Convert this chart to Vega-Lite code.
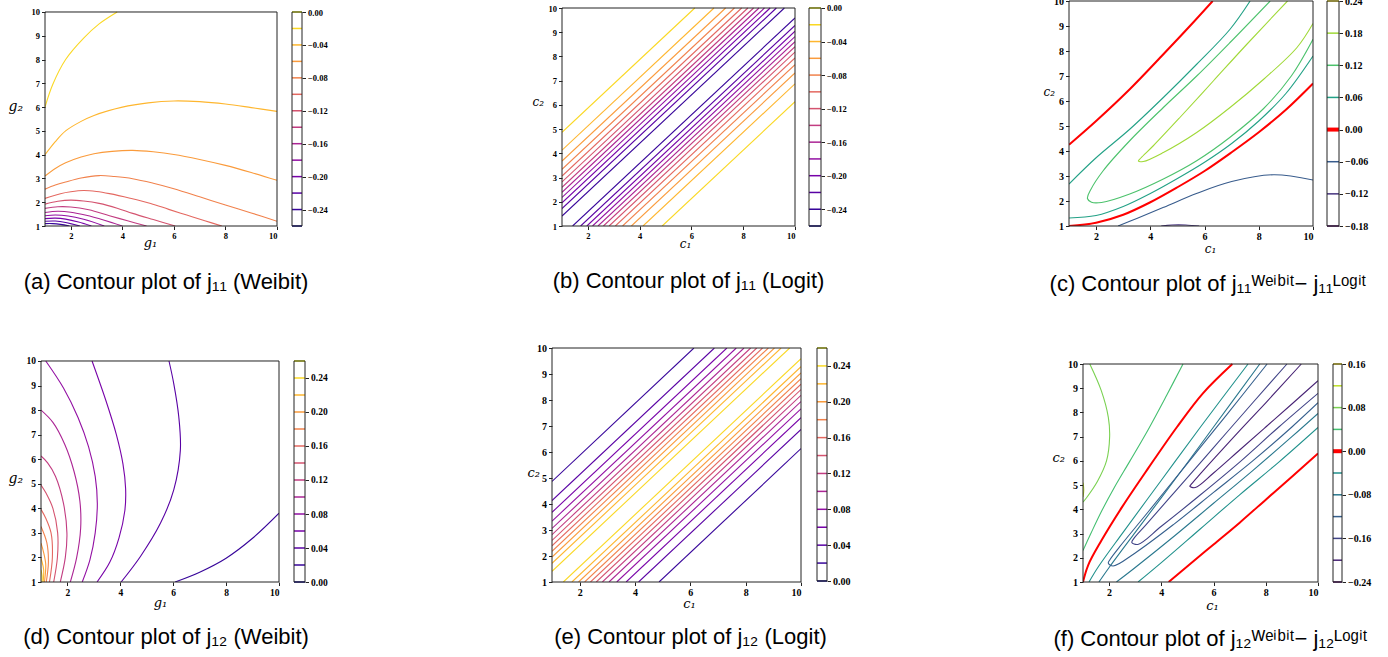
{
 "$schema": "https://vega.github.io/schema/vega-lite/v6.json",
 "padding": {"left": 8, "top": -4, "right": 5, "bottom": 5},
 "background": "white",
 "config": {
  "view": {"stroke": null},
  "axis": {"labelFont": "Liberation Serif", "labelFontWeight": "bold", "labelFontSize": 9, "labelColor": "#000", "tickColor": "#222", "tickSize": 3.5, "domain": false, "grid": false, "titleFont": "DejaVu Serif", "titleFontStyle": "italic", "titleFontWeight": "normal", "titleColor": "#000", "titleFontSize": 13, "labelPadding": 2},
  "axisY": {"titleAngle": 0, "titleAlign": "left", "titleBaseline": "middle"},
  "axisX": {"titleAlign": "center", "titleBaseline": "alphabetic"},
  "title": {"font": "Liberation Sans", "fontSize": 22, "fontWeight": "normal", "color": "#000"}
 },
 "datasets": {
  "LA": [{"v":-0.26},{"v":-0.24},{"v":-0.22},{"v":-0.2},{"v":-0.18},{"v":-0.16},{"v":-0.14},{"v":-0.12},{"v":-0.1},{"v":-0.08},{"v":-0.06},{"v":-0.04},{"v":-0.02},{"v":0}],
  "LD": [{"v":0},{"v":0.02},{"v":0.04},{"v":0.06},{"v":0.08},{"v":0.1},{"v":0.12},{"v":0.14},{"v":0.16},{"v":0.18},{"v":0.2},{"v":0.22},{"v":0.24},{"v":0.26}],
  "LC": [{"v":-0.18},{"v":-0.12},{"v":-0.06},{"v":0},{"v":0.06},{"v":0.12},{"v":0.18},{"v":0.24}],
  "LF": [{"v":-0.24},{"v":-0.2},{"v":-0.16},{"v":-0.12},{"v":-0.08},{"v":-0.04},{"v":0},{"v":0.04},{"v":0.08},{"v":0.12},{"v":0.16}],
  "A": [
   {"k":"1","v":-0.02,"o":0,"x":1,"y":6.0},{"k":"1","v":-0.02,"o":1,"x":1.3,"y":6.95},{"k":"1","v":-0.02,"o":2,"x":1.8,"y":8.0},{"k":"1","v":-0.02,"o":3,"x":2.5,"y":8.9},{"k":"1","v":-0.02,"o":4,"x":3.1,"y":9.5},{"k":"1","v":-0.02,"o":5,"x":3.8,"y":10},
   {"k":"2","v":-0.04,"o":0,"x":1,"y":4.0},{"k":"2","v":-0.04,"o":1,"x":1.4,"y":4.55},{"k":"2","v":-0.04,"o":2,"x":1.8,"y":5.0},{"k":"2","v":-0.04,"o":3,"x":2.4,"y":5.4},{"k":"2","v":-0.04,"o":4,"x":2.9,"y":5.65},{"k":"2","v":-0.04,"o":5,"x":4,"y":6.0},{"k":"2","v":-0.04,"o":6,"x":5,"y":6.18},{"k":"2","v":-0.04,"o":7,"x":6,"y":6.26},{"k":"2","v":-0.04,"o":8,"x":7,"y":6.23},{"k":"2","v":-0.04,"o":9,"x":8,"y":6.13},{"k":"2","v":-0.04,"o":10,"x":9,"y":5.98},{"k":"2","v":-0.04,"o":11,"x":10,"y":5.82},
   {"k":"3","v":-0.06,"o":0,"x":1,"y":3.1},{"k":"3","v":-0.06,"o":1,"x":1.4,"y":3.42},{"k":"3","v":-0.06,"o":2,"x":1.8,"y":3.66},{"k":"3","v":-0.06,"o":3,"x":2.4,"y":3.9},{"k":"3","v":-0.06,"o":4,"x":2.9,"y":4.04},{"k":"3","v":-0.06,"o":5,"x":3.6,"y":4.14},{"k":"3","v":-0.06,"o":6,"x":4.4,"y":4.18},{"k":"3","v":-0.06,"o":7,"x":5.2,"y":4.12},{"k":"3","v":-0.06,"o":8,"x":6,"y":4.01},{"k":"3","v":-0.06,"o":9,"x":7,"y":3.8},{"k":"3","v":-0.06,"o":10,"x":8,"y":3.55},{"k":"3","v":-0.06,"o":11,"x":9,"y":3.25},{"k":"3","v":-0.06,"o":12,"x":10,"y":2.92},
   {"k":"4","v":-0.08,"o":0,"x":1,"y":2.55},{"k":"4","v":-0.08,"o":1,"x":1.4,"y":2.72},{"k":"4","v":-0.08,"o":2,"x":1.8,"y":2.85},{"k":"4","v":-0.08,"o":3,"x":2.4,"y":3.02},{"k":"4","v":-0.08,"o":4,"x":3.1,"y":3.12},{"k":"4","v":-0.08,"o":5,"x":3.7,"y":3.08},{"k":"4","v":-0.08,"o":6,"x":4.4,"y":2.99},{"k":"4","v":-0.08,"o":7,"x":5.2,"y":2.8},{"k":"4","v":-0.08,"o":8,"x":6,"y":2.57},{"k":"4","v":-0.08,"o":9,"x":7,"y":2.23},{"k":"4","v":-0.08,"o":10,"x":8,"y":1.88},{"k":"4","v":-0.08,"o":11,"x":9,"y":1.55},{"k":"4","v":-0.08,"o":12,"x":10,"y":1.2},
   {"k":"5","v":-0.1,"o":0,"x":1,"y":2.16},{"k":"5","v":-0.1,"o":1,"x":1.6,"y":2.36},{"k":"5","v":-0.1,"o":2,"x":2.0,"y":2.44},{"k":"5","v":-0.1,"o":3,"x":2.5,"y":2.49},{"k":"5","v":-0.1,"o":4,"x":3.0,"y":2.45},{"k":"5","v":-0.1,"o":5,"x":3.5,"y":2.36},{"k":"5","v":-0.1,"o":6,"x":4.3,"y":2.17},{"k":"5","v":-0.1,"o":7,"x":5.1,"y":1.95},{"k":"5","v":-0.1,"o":8,"x":5.8,"y":1.7},{"k":"5","v":-0.1,"o":9,"x":6.5,"y":1.46},{"k":"5","v":-0.1,"o":10,"x":7.2,"y":1.22},{"k":"5","v":-0.1,"o":11,"x":7.86,"y":1},
   {"k":"6","v":-0.12,"o":0,"x":1,"y":1.92},{"k":"6","v":-0.12,"o":1,"x":1.5,"y":2.04},{"k":"6","v":-0.12,"o":2,"x":2.0,"y":2.09},{"k":"6","v":-0.12,"o":3,"x":2.5,"y":2.05},{"k":"6","v":-0.12,"o":4,"x":3.1,"y":1.95},{"k":"6","v":-0.12,"o":5,"x":3.8,"y":1.75},{"k":"6","v":-0.12,"o":6,"x":4.4,"y":1.53},{"k":"6","v":-0.12,"o":7,"x":5.2,"y":1.27},{"k":"6","v":-0.12,"o":8,"x":6.05,"y":1},
   {"k":"7","v":-0.14,"o":0,"x":1,"y":1.74},{"k":"7","v":-0.14,"o":1,"x":1.5,"y":1.81},{"k":"7","v":-0.14,"o":2,"x":2.0,"y":1.8},{"k":"7","v":-0.14,"o":3,"x":2.7,"y":1.68},{"k":"7","v":-0.14,"o":4,"x":3.5,"y":1.43},{"k":"7","v":-0.14,"o":5,"x":4.2,"y":1.22},{"k":"7","v":-0.14,"o":6,"x":4.94,"y":1},
   {"k":"8","v":-0.16,"o":0,"x":1,"y":1.57},{"k":"8","v":-0.16,"o":1,"x":1.5,"y":1.62},{"k":"8","v":-0.16,"o":2,"x":2.0,"y":1.58},{"k":"8","v":-0.16,"o":3,"x":2.6,"y":1.45},{"k":"8","v":-0.16,"o":4,"x":3.3,"y":1.24},{"k":"8","v":-0.16,"o":5,"x":4.0,"y":1},
   {"k":"9","v":-0.18,"o":0,"x":1,"y":1.43},{"k":"9","v":-0.18,"o":1,"x":1.4,"y":1.46},{"k":"9","v":-0.18,"o":2,"x":1.9,"y":1.42},{"k":"9","v":-0.18,"o":3,"x":2.5,"y":1.28},{"k":"9","v":-0.18,"o":4,"x":3.3,"y":1},
   {"k":"10","v":-0.2,"o":0,"x":1,"y":1.31},{"k":"10","v":-0.2,"o":1,"x":1.4,"y":1.33},{"k":"10","v":-0.2,"o":2,"x":1.8,"y":1.29},{"k":"10","v":-0.2,"o":3,"x":2.3,"y":1.17},{"k":"10","v":-0.2,"o":4,"x":2.8,"y":1},
   {"k":"11","v":-0.22,"o":0,"x":1,"y":1.2},{"k":"11","v":-0.22,"o":1,"x":1.4,"y":1.21},{"k":"11","v":-0.22,"o":2,"x":1.8,"y":1.15},{"k":"11","v":-0.22,"o":3,"x":2.35,"y":1},
   {"k":"12","v":-0.24,"o":0,"x":1,"y":1.1},{"k":"12","v":-0.24,"o":1,"x":1.3,"y":1.1},{"k":"12","v":-0.24,"o":2,"x":1.6,"y":1.07},{"k":"12","v":-0.24,"o":3,"x":1.95,"y":1}
  ],
  "B": [
   {"k":"p1","v":-0.02,"o":0,"x":1,"y":4.87},{"k":"p1","v":-0.02,"o":1,"x":6.13,"y":10},{"k":"n1","v":-0.02,"o":0,"x":4.87,"y":1},{"k":"n1","v":-0.02,"o":1,"x":10,"y":6.13},
   {"k":"p2","v":-0.04,"o":0,"x":1,"y":4.13},{"k":"p2","v":-0.04,"o":1,"x":6.87,"y":10},{"k":"n2","v":-0.04,"o":0,"x":4.13,"y":1},{"k":"n2","v":-0.04,"o":1,"x":10,"y":6.87},
   {"k":"p3","v":-0.06,"o":0,"x":1,"y":3.68},{"k":"p3","v":-0.06,"o":1,"x":7.32,"y":10},{"k":"n3","v":-0.06,"o":0,"x":3.68,"y":1},{"k":"n3","v":-0.06,"o":1,"x":10,"y":7.32},
   {"k":"p4","v":-0.08,"o":0,"x":1,"y":3.34},{"k":"p4","v":-0.08,"o":1,"x":7.66,"y":10},{"k":"n4","v":-0.08,"o":0,"x":3.34,"y":1},{"k":"n4","v":-0.08,"o":1,"x":10,"y":7.66},
   {"k":"p5","v":-0.1,"o":0,"x":1,"y":3.06},{"k":"p5","v":-0.1,"o":1,"x":7.94,"y":10},{"k":"n5","v":-0.1,"o":0,"x":3.06,"y":1},{"k":"n5","v":-0.1,"o":1,"x":10,"y":7.94},
   {"k":"p6","v":-0.12,"o":0,"x":1,"y":2.82},{"k":"p6","v":-0.12,"o":1,"x":8.18,"y":10},{"k":"n6","v":-0.12,"o":0,"x":2.82,"y":1},{"k":"n6","v":-0.12,"o":1,"x":10,"y":8.18},
   {"k":"p7","v":-0.14,"o":0,"x":1,"y":2.6},{"k":"p7","v":-0.14,"o":1,"x":8.4,"y":10},{"k":"n7","v":-0.14,"o":0,"x":2.6,"y":1},{"k":"n7","v":-0.14,"o":1,"x":10,"y":8.4},
   {"k":"p8","v":-0.16,"o":0,"x":1,"y":2.39},{"k":"p8","v":-0.16,"o":1,"x":8.61,"y":10},{"k":"n8","v":-0.16,"o":0,"x":2.39,"y":1},{"k":"n8","v":-0.16,"o":1,"x":10,"y":8.61},
   {"k":"p9","v":-0.18,"o":0,"x":1,"y":2.18},{"k":"p9","v":-0.18,"o":1,"x":8.82,"y":10},{"k":"n9","v":-0.18,"o":0,"x":2.18,"y":1},{"k":"n9","v":-0.18,"o":1,"x":10,"y":8.82},
   {"k":"p10","v":-0.2,"o":0,"x":1,"y":1.96},{"k":"p10","v":-0.2,"o":1,"x":9.04,"y":10},{"k":"n10","v":-0.2,"o":0,"x":1.96,"y":1},{"k":"n10","v":-0.2,"o":1,"x":10,"y":9.04},
   {"k":"p11","v":-0.22,"o":0,"x":1,"y":1.72},{"k":"p11","v":-0.22,"o":1,"x":9.28,"y":10},{"k":"n11","v":-0.22,"o":0,"x":1.72,"y":1},{"k":"n11","v":-0.22,"o":1,"x":10,"y":9.28},
   {"k":"p12","v":-0.24,"o":0,"x":1,"y":1.41},{"k":"p12","v":-0.24,"o":1,"x":9.59,"y":10},{"k":"n12","v":-0.24,"o":0,"x":1.41,"y":1},{"k":"n12","v":-0.24,"o":1,"x":10,"y":9.59}
  ],
  "E": [
   {"k":"p1","v":0.02,"o":0,"x":1,"y":4.87},{"k":"p1","v":0.02,"o":1,"x":6.13,"y":10},{"k":"n1","v":0.02,"o":0,"x":4.87,"y":1},{"k":"n1","v":0.02,"o":1,"x":10,"y":6.13},
   {"k":"p2","v":0.04,"o":0,"x":1,"y":4.13},{"k":"p2","v":0.04,"o":1,"x":6.87,"y":10},{"k":"n2","v":0.04,"o":0,"x":4.13,"y":1},{"k":"n2","v":0.04,"o":1,"x":10,"y":6.87},
   {"k":"p3","v":0.06,"o":0,"x":1,"y":3.68},{"k":"p3","v":0.06,"o":1,"x":7.32,"y":10},{"k":"n3","v":0.06,"o":0,"x":3.68,"y":1},{"k":"n3","v":0.06,"o":1,"x":10,"y":7.32},
   {"k":"p4","v":0.08,"o":0,"x":1,"y":3.34},{"k":"p4","v":0.08,"o":1,"x":7.66,"y":10},{"k":"n4","v":0.08,"o":0,"x":3.34,"y":1},{"k":"n4","v":0.08,"o":1,"x":10,"y":7.66},
   {"k":"p5","v":0.1,"o":0,"x":1,"y":3.06},{"k":"p5","v":0.1,"o":1,"x":7.94,"y":10},{"k":"n5","v":0.1,"o":0,"x":3.06,"y":1},{"k":"n5","v":0.1,"o":1,"x":10,"y":7.94},
   {"k":"p6","v":0.12,"o":0,"x":1,"y":2.82},{"k":"p6","v":0.12,"o":1,"x":8.18,"y":10},{"k":"n6","v":0.12,"o":0,"x":2.82,"y":1},{"k":"n6","v":0.12,"o":1,"x":10,"y":8.18},
   {"k":"p7","v":0.14,"o":0,"x":1,"y":2.6},{"k":"p7","v":0.14,"o":1,"x":8.4,"y":10},{"k":"n7","v":0.14,"o":0,"x":2.6,"y":1},{"k":"n7","v":0.14,"o":1,"x":10,"y":8.4},
   {"k":"p8","v":0.16,"o":0,"x":1,"y":2.39},{"k":"p8","v":0.16,"o":1,"x":8.61,"y":10},{"k":"n8","v":0.16,"o":0,"x":2.39,"y":1},{"k":"n8","v":0.16,"o":1,"x":10,"y":8.61},
   {"k":"p9","v":0.18,"o":0,"x":1,"y":2.18},{"k":"p9","v":0.18,"o":1,"x":8.82,"y":10},{"k":"n9","v":0.18,"o":0,"x":2.18,"y":1},{"k":"n9","v":0.18,"o":1,"x":10,"y":8.82},
   {"k":"p10","v":0.2,"o":0,"x":1,"y":1.96},{"k":"p10","v":0.2,"o":1,"x":9.04,"y":10},{"k":"n10","v":0.2,"o":0,"x":1.96,"y":1},{"k":"n10","v":0.2,"o":1,"x":10,"y":9.04},
   {"k":"p11","v":0.22,"o":0,"x":1,"y":1.72},{"k":"p11","v":0.22,"o":1,"x":9.28,"y":10},{"k":"n11","v":0.22,"o":0,"x":1.72,"y":1},{"k":"n11","v":0.22,"o":1,"x":10,"y":9.28},
   {"k":"p12","v":0.24,"o":0,"x":1,"y":1.41},{"k":"p12","v":0.24,"o":1,"x":9.59,"y":10},{"k":"n12","v":0.24,"o":0,"x":1.41,"y":1},{"k":"n12","v":0.24,"o":1,"x":10,"y":9.59}
  ],
  "D": [
   {"k":"1","v":0.02,"o":0,"x":6.07,"y":1},{"k":"1","v":0.02,"o":1,"x":7,"y":1.4},{"k":"1","v":0.02,"o":2,"x":8,"y":1.97},{"k":"1","v":0.02,"o":3,"x":9,"y":2.78},{"k":"1","v":0.02,"o":4,"x":10,"y":3.8},
   {"k":"2","v":0.04,"o":0,"x":4.03,"y":1},{"k":"2","v":0.04,"o":1,"x":4.76,"y":2.04},{"k":"2","v":0.04,"o":2,"x":5.52,"y":3.4},{"k":"2","v":0.04,"o":3,"x":6.02,"y":4.75},{"k":"2","v":0.04,"o":4,"x":6.27,"y":6.37},{"k":"2","v":0.04,"o":5,"x":6.21,"y":7.73},{"k":"2","v":0.04,"o":6,"x":6.02,"y":9.08},{"k":"2","v":0.04,"o":7,"x":5.84,"y":10},
   {"k":"3","v":0.06,"o":0,"x":3.12,"y":1},{"k":"3","v":0.06,"o":1,"x":3.6,"y":1.8},{"k":"3","v":0.06,"o":2,"x":3.95,"y":2.8},{"k":"3","v":0.06,"o":3,"x":4.17,"y":3.9},{"k":"3","v":0.06,"o":4,"x":4.2,"y":4.8},{"k":"3","v":0.06,"o":5,"x":4.1,"y":5.8},{"k":"3","v":0.06,"o":6,"x":3.85,"y":7.0},{"k":"3","v":0.06,"o":7,"x":3.45,"y":8.4},{"k":"3","v":0.06,"o":8,"x":2.93,"y":10},
   {"k":"4","v":0.08,"o":0,"x":2.56,"y":1},{"k":"4","v":0.08,"o":1,"x":2.85,"y":1.9},{"k":"4","v":0.08,"o":2,"x":3.05,"y":3.0},{"k":"4","v":0.08,"o":3,"x":3.13,"y":4.2},{"k":"4","v":0.08,"o":4,"x":3.05,"y":5.3},{"k":"4","v":0.08,"o":5,"x":2.8,"y":6.5},{"k":"4","v":0.08,"o":6,"x":2.4,"y":7.7},{"k":"4","v":0.08,"o":7,"x":1.85,"y":8.9},{"k":"4","v":0.08,"o":8,"x":1.18,"y":10},
   {"k":"5","v":0.1,"o":0,"x":2.11,"y":1},{"k":"5","v":0.1,"o":1,"x":2.35,"y":2.0},{"k":"5","v":0.1,"o":2,"x":2.5,"y":3.2},{"k":"5","v":0.1,"o":3,"x":2.47,"y":4.3},{"k":"5","v":0.1,"o":4,"x":2.25,"y":5.5},{"k":"5","v":0.1,"o":5,"x":1.9,"y":6.6},{"k":"5","v":0.1,"o":6,"x":1.45,"y":7.5},{"k":"5","v":0.1,"o":7,"x":1,"y":8.0},
   {"k":"6","v":0.12,"o":0,"x":1.73,"y":1},{"k":"6","v":0.12,"o":1,"x":1.92,"y":2.0},{"k":"6","v":0.12,"o":2,"x":1.98,"y":3.0},{"k":"6","v":0.12,"o":3,"x":1.85,"y":4.2},{"k":"6","v":0.12,"o":4,"x":1.55,"y":5.3},{"k":"6","v":0.12,"o":5,"x":1.25,"y":5.85},{"k":"6","v":0.12,"o":6,"x":1,"y":6.13},
   {"k":"7","v":0.14,"o":0,"x":1.48,"y":1},{"k":"7","v":0.14,"o":1,"x":1.62,"y":2.0},{"k":"7","v":0.14,"o":2,"x":1.63,"y":3.0},{"k":"7","v":0.14,"o":3,"x":1.45,"y":4.0},{"k":"7","v":0.14,"o":4,"x":1.2,"y":4.6},{"k":"7","v":0.14,"o":5,"x":1,"y":4.95},
   {"k":"8","v":0.16,"o":0,"x":1.32,"y":1},{"k":"8","v":0.16,"o":1,"x":1.43,"y":2.0},{"k":"8","v":0.16,"o":2,"x":1.38,"y":3.0},{"k":"8","v":0.16,"o":3,"x":1.18,"y":3.6},{"k":"8","v":0.16,"o":4,"x":1,"y":3.96},
   {"k":"9","v":0.18,"o":0,"x":1.2,"y":1},{"k":"9","v":0.18,"o":1,"x":1.28,"y":1.8},{"k":"9","v":0.18,"o":2,"x":1.22,"y":2.6},{"k":"9","v":0.18,"o":3,"x":1,"y":3.26},
   {"k":"10","v":0.2,"o":0,"x":1.13,"y":1},{"k":"10","v":0.2,"o":1,"x":1.18,"y":1.7},{"k":"10","v":0.2,"o":2,"x":1.1,"y":2.2},{"k":"10","v":0.2,"o":3,"x":1,"y":2.58},
   {"k":"11","v":0.22,"o":0,"x":1.08,"y":1},{"k":"11","v":0.22,"o":1,"x":1.1,"y":1.5},{"k":"11","v":0.22,"o":2,"x":1,"y":1.97},
   {"k":"12","v":0.24,"o":0,"x":1.04,"y":1},{"k":"12","v":0.24,"o":1,"x":1.04,"y":1.25},{"k":"12","v":0.24,"o":2,"x":1,"y":1.5}
  ],
  "C": [
   {"k":"r1","v":0,"o":0,"x":1,"y":4.25},{"k":"r1","v":0,"o":1,"x":2.01,"y":5.21},{"k":"r1","v":0,"o":2,"x":3.24,"y":6.47},{"k":"r1","v":0,"o":3,"x":4.48,"y":7.87},{"k":"r1","v":0,"o":4,"x":5.46,"y":9.0},{"k":"r1","v":0,"o":5,"x":6.3,"y":10},
   {"k":"t1","v":0.06,"o":0,"x":1,"y":2.68},{"k":"t1","v":0.06,"o":1,"x":2.01,"y":3.74},{"k":"t1","v":0.06,"o":2,"x":3.24,"y":4.87},{"k":"t1","v":0.06,"o":3,"x":4.48,"y":6.14},{"k":"t1","v":0.06,"o":4,"x":5.71,"y":7.47},{"k":"t1","v":0.06,"o":5,"x":6.94,"y":8.87},{"k":"t1","v":0.06,"o":6,"x":7.68,"y":10},
   {"k":"g1","v":0.12,"o":0,"x":8.42,"y":10},{"k":"g1","v":0.12,"o":1,"x":6.94,"y":8.34},{"k":"g1","v":0.12,"o":2,"x":5.71,"y":7.0},{"k":"g1","v":0.12,"o":3,"x":4.48,"y":5.74},{"k":"g1","v":0.12,"o":4,"x":3.24,"y":4.41},{"k":"g1","v":0.12,"o":5,"x":2.26,"y":3.21},{"k":"g1","v":0.12,"o":6,"x":1.8,"y":2.45},{"k":"g1","v":0.12,"o":7,"x":1.68,"y":2.1},{"k":"g1","v":0.12,"o":8,"x":1.83,"y":1.95},{"k":"g1","v":0.12,"o":9,"x":2.2,"y":1.94},{"k":"g1","v":0.12,"o":10,"x":3.24,"y":2.28},{"k":"g1","v":0.12,"o":11,"x":4.48,"y":2.88},{"k":"g1","v":0.12,"o":12,"x":5.71,"y":3.61},{"k":"g1","v":0.12,"o":13,"x":6.94,"y":4.55},{"k":"g1","v":0.12,"o":14,"x":8.18,"y":5.7},{"k":"g1","v":0.12,"o":15,"x":9.2,"y":7.0},{"k":"g1","v":0.12,"o":16,"x":10,"y":8.47},
   {"k":"y1","v":0.18,"o":0,"x":9.06,"y":10},{"k":"y1","v":0.18,"o":1,"x":7.56,"y":8.27},{"k":"y1","v":0.18,"o":2,"x":6.33,"y":6.81},{"k":"y1","v":0.18,"o":3,"x":5.09,"y":5.34},{"k":"y1","v":0.18,"o":4,"x":4.11,"y":4.21},{"k":"y1","v":0.18,"o":5,"x":3.65,"y":3.72},{"k":"y1","v":0.18,"o":6,"x":3.56,"y":3.6},{"k":"y1","v":0.18,"o":7,"x":3.74,"y":3.58},{"k":"y1","v":0.18,"o":8,"x":4.48,"y":3.94},{"k":"y1","v":0.18,"o":9,"x":5.71,"y":4.74},{"k":"y1","v":0.18,"o":10,"x":6.94,"y":5.74},{"k":"y1","v":0.18,"o":11,"x":8.18,"y":6.87},{"k":"y1","v":0.18,"o":12,"x":9.41,"y":8.14},{"k":"y1","v":0.18,"o":13,"x":10,"y":9.1},
   {"k":"t2","v":0.06,"o":0,"x":1,"y":1.32},{"k":"t2","v":0.06,"o":1,"x":2,"y":1.42},{"k":"t2","v":0.06,"o":2,"x":3,"y":1.78},{"k":"t2","v":0.06,"o":3,"x":4,"y":2.3},{"k":"t2","v":0.06,"o":4,"x":5,"y":2.9},{"k":"t2","v":0.06,"o":5,"x":6,"y":3.55},{"k":"t2","v":0.06,"o":6,"x":7,"y":4.3},{"k":"t2","v":0.06,"o":7,"x":8,"y":5.2},{"k":"t2","v":0.06,"o":8,"x":9,"y":6.3},{"k":"t2","v":0.06,"o":9,"x":10,"y":7.8},
   {"k":"r2","v":0,"o":0,"x":1,"y":1.0},{"k":"r2","v":0,"o":1,"x":2,"y":1.13},{"k":"r2","v":0,"o":2,"x":3,"y":1.45},{"k":"r2","v":0,"o":3,"x":4,"y":1.95},{"k":"r2","v":0,"o":4,"x":5,"y":2.55},{"k":"r2","v":0,"o":5,"x":6,"y":3.2},{"k":"r2","v":0,"o":6,"x":7,"y":3.95},{"k":"r2","v":0,"o":7,"x":8,"y":4.75},{"k":"r2","v":0,"o":8,"x":9,"y":5.65},{"k":"r2","v":0,"o":9,"x":10,"y":6.7},
   {"k":"b1","v":-0.06,"o":0,"x":2.81,"y":1},{"k":"b1","v":-0.06,"o":1,"x":3.5,"y":1.3},{"k":"b1","v":-0.06,"o":2,"x":4.5,"y":1.75},{"k":"b1","v":-0.06,"o":3,"x":5.7,"y":2.3},{"k":"b1","v":-0.06,"o":4,"x":7,"y":2.78},{"k":"b1","v":-0.06,"o":5,"x":8.55,"y":3.05},{"k":"b1","v":-0.06,"o":6,"x":10,"y":2.84},
   {"k":"d1","v":-0.12,"o":0,"x":4.4,"y":1},{"k":"d1","v":-0.12,"o":1,"x":4.8,"y":1.04},{"k":"d1","v":-0.12,"o":2,"x":5.3,"y":1.04},{"k":"d1","v":-0.12,"o":3,"x":5.8,"y":1}
  ],
  "F": [
   {"k":"g12","v":0.12,"o":0,"x":1,"y":5.1},{"k":"g12","v":0.12,"o":1,"x":1.03,"y":4.8},{"k":"g12","v":0.12,"o":2,"x":1,"y":4.5},
   {"k":"g8","v":0.08,"o":0,"x":1.26,"y":10},{"k":"g8","v":0.08,"o":1,"x":1.7,"y":8.9},{"k":"g8","v":0.08,"o":2,"x":1.97,"y":7.8},{"k":"g8","v":0.08,"o":3,"x":2.02,"y":7.0},{"k":"g8","v":0.08,"o":4,"x":1.9,"y":6.0},{"k":"g8","v":0.08,"o":5,"x":1.55,"y":5.15},{"k":"g8","v":0.08,"o":6,"x":1.15,"y":4.5},{"k":"g8","v":0.08,"o":7,"x":1,"y":4.3},
   {"k":"g4","v":0.04,"o":0,"x":1,"y":2.3},{"k":"g4","v":0.04,"o":1,"x":1.3,"y":3.0},{"k":"g4","v":0.04,"o":2,"x":1.7,"y":3.9},{"k":"g4","v":0.04,"o":3,"x":2.2,"y":4.9},{"k":"g4","v":0.04,"o":4,"x":2.8,"y":6.0},{"k":"g4","v":0.04,"o":5,"x":3.5,"y":7.3},{"k":"g4","v":0.04,"o":6,"x":4.2,"y":8.7},{"k":"g4","v":0.04,"o":7,"x":4.83,"y":10},
   {"k":"r1","v":0,"o":0,"x":1,"y":1},{"k":"r1","v":0,"o":1,"x":1.2,"y":1.7},{"k":"r1","v":0,"o":2,"x":1.7,"y":2.7},{"k":"r1","v":0,"o":3,"x":2.5,"y":4.1},{"k":"r1","v":0,"o":4,"x":3.5,"y":5.7},{"k":"r1","v":0,"o":5,"x":4.6,"y":7.4},{"k":"r1","v":0,"o":6,"x":5.6,"y":8.8},{"k":"r1","v":0,"o":7,"x":6.72,"y":10},
   {"k":"r2","v":0,"o":0,"x":4.28,"y":1},{"k":"r2","v":0,"o":1,"x":5,"y":1.65},{"k":"r2","v":0,"o":2,"x":6,"y":2.55},{"k":"r2","v":0,"o":3,"x":7,"y":3.45},{"k":"r2","v":0,"o":4,"x":8,"y":4.4},{"k":"r2","v":0,"o":5,"x":9,"y":5.35},{"k":"r2","v":0,"o":6,"x":10,"y":6.31},
   {"k":"m4a","v":-0.04,"o":0,"x":1.23,"y":1},{"k":"m4a","v":-0.04,"o":1,"x":1.6,"y":1.65},{"k":"m4a","v":-0.04,"o":2,"x":2.5,"y":3.0},{"k":"m4a","v":-0.04,"o":3,"x":4,"y":5.2},{"k":"m4a","v":-0.04,"o":4,"x":5.5,"y":7.4},{"k":"m4a","v":-0.04,"o":5,"x":7.32,"y":10},
   {"k":"m4b","v":-0.04,"o":0,"x":3.11,"y":1},{"k":"m4b","v":-0.04,"o":1,"x":4,"y":1.8},{"k":"m4b","v":-0.04,"o":2,"x":5.5,"y":3.2},{"k":"m4b","v":-0.04,"o":3,"x":7,"y":4.6},{"k":"m4b","v":-0.04,"o":4,"x":8.5,"y":5.95},{"k":"m4b","v":-0.04,"o":5,"x":10,"y":7.38},
   {"k":"m8a","v":-0.08,"o":0,"x":1.61,"y":1},{"k":"m8a","v":-0.08,"o":1,"x":2.0,"y":1.6},{"k":"m8a","v":-0.08,"o":2,"x":3,"y":3.05},{"k":"m8a","v":-0.08,"o":3,"x":4.5,"y":5.2},{"k":"m8a","v":-0.08,"o":4,"x":6,"y":7.4},{"k":"m8a","v":-0.08,"o":5,"x":7.77,"y":10},
   {"k":"m8b","v":-0.08,"o":0,"x":2.28,"y":1},{"k":"m8b","v":-0.08,"o":1,"x":3,"y":1.6},{"k":"m8b","v":-0.08,"o":2,"x":4.5,"y":2.9},{"k":"m8b","v":-0.08,"o":3,"x":6,"y":4.25},{"k":"m8b","v":-0.08,"o":4,"x":7.5,"y":5.6},{"k":"m8b","v":-0.08,"o":5,"x":9,"y":7.0},{"k":"m8b","v":-0.08,"o":6,"x":10,"y":7.96},
   {"k":"m12","v":-0.12,"o":0,"x":8.05,"y":10},{"k":"m12","v":-0.12,"o":1,"x":6.5,"y":7.9},{"k":"m12","v":-0.12,"o":2,"x":5,"y":5.9},{"k":"m12","v":-0.12,"o":3,"x":3.5,"y":3.9},{"k":"m12","v":-0.12,"o":4,"x":2.4,"y":2.45},{"k":"m12","v":-0.12,"o":5,"x":2.03,"y":1.92},{"k":"m12","v":-0.12,"o":6,"x":1.97,"y":1.78},{"k":"m12","v":-0.12,"o":7,"x":2.15,"y":1.66},{"k":"m12","v":-0.12,"o":8,"x":3,"y":2.2},{"k":"m12","v":-0.12,"o":9,"x":4.5,"y":3.4},{"k":"m12","v":-0.12,"o":10,"x":6,"y":4.7},{"k":"m12","v":-0.12,"o":11,"x":7.5,"y":6.0},{"k":"m12","v":-0.12,"o":12,"x":9,"y":7.4},{"k":"m12","v":-0.12,"o":13,"x":10,"y":8.4},
   {"k":"m16","v":-0.16,"o":0,"x":8.81,"y":10},{"k":"m16","v":-0.16,"o":1,"x":7.5,"y":8.4},{"k":"m16","v":-0.16,"o":2,"x":6,"y":6.55},{"k":"m16","v":-0.16,"o":3,"x":4.5,"y":4.7},{"k":"m16","v":-0.16,"o":4,"x":3.4,"y":3.35},{"k":"m16","v":-0.16,"o":5,"x":2.95,"y":2.8},{"k":"m16","v":-0.16,"o":6,"x":2.87,"y":2.63},{"k":"m16","v":-0.16,"o":7,"x":3.1,"y":2.55},{"k":"m16","v":-0.16,"o":8,"x":4,"y":3.3},{"k":"m16","v":-0.16,"o":9,"x":5.5,"y":4.6},{"k":"m16","v":-0.16,"o":10,"x":7,"y":5.95},{"k":"m16","v":-0.16,"o":11,"x":8.5,"y":7.4},{"k":"m16","v":-0.16,"o":12,"x":10,"y":8.79},
   {"k":"m20","v":-0.2,"o":0,"x":9.36,"y":10},{"k":"m20","v":-0.2,"o":1,"x":8,"y":8.4},{"k":"m20","v":-0.2,"o":2,"x":7,"y":7.25},{"k":"m20","v":-0.2,"o":3,"x":6,"y":6.07},{"k":"m20","v":-0.2,"o":4,"x":5.4,"y":5.35},{"k":"m20","v":-0.2,"o":5,"x":5.12,"y":5.0},{"k":"m20","v":-0.2,"o":6,"x":5.09,"y":4.95},{"k":"m20","v":-0.2,"o":7,"x":5.3,"y":4.9},{"k":"m20","v":-0.2,"o":8,"x":6,"y":5.5},{"k":"m20","v":-0.2,"o":9,"x":7,"y":6.45},{"k":"m20","v":-0.2,"o":10,"x":8,"y":7.4},{"k":"m20","v":-0.2,"o":11,"x":9,"y":8.35},{"k":"m20","v":-0.2,"o":12,"x":10,"y":9.31}
  ]
 },
 "vconcat": [
  {
   "hconcat": [
    {"width": 4, "height": 1, "data": {"values": [{"z": 0}]}, "mark": {"type": "point", "opacity": 0}},
    {"width": 232, "height": 225,
     "title": {"text": "(a) Contour plot of j₁₁ (Weibit)", "orient": "bottom", "frame": "group", "anchor": "middle", "baseline": "alphabetic", "offset": 40, "dx": 5},
     "encoding": {
      "x": {"field": "x", "type": "quantitative", "scale": {"domain": [1, 10], "nice": false, "zero": false}, "axis": {"values": [2,4,6,8,10], "title": "g₁", "labelFontSize": 8.5, "titleFontSize": 13, "titleX": 105, "titleY": 20}},
      "y": {"field": "y", "type": "quantitative", "scale": {"domain": [1, 10.4626], "nice": false, "zero": false}, "axis": {"values": [1,2,3,4,5,6,7,8,9,10], "title": "g₂", "labelFontSize": 8.5, "titleFontSize": 14, "titleX": -37, "titleY": 105}}
     },
     "layer": [
      {"data": {"name": "A"}, "mark": {"type": "line", "strokeWidth": 1.1, "clip": true, "interpolate": "catmull-rom"},
       "encoding": {"detail": {"field": "k"}, "order": {"field": "o"},
        "color": {"field": "v", "type": "ordinal", "scale": {"domain": [-0.26,-0.24,-0.22,-0.2,-0.18,-0.16,-0.14,-0.12,-0.1,-0.08,-0.06,-0.04,-0.02,0], "range": ["#0d0887","#37059a","#5801a4","#7702a8","#920fa3","#ab2494","#c23c81","#d4536f","#e46860","#f1824c","#fa9b3c","#feb62e","#fad824","#f0f921"]}, "legend": null}}},
      {"data": {"values": [{"x": 1, "y": 1, "x2": 10, "y2": 10}]}, "mark": {"type": "rect", "fillOpacity": 0, "stroke": "#222", "strokeWidth": 1},
       "encoding": {"x2": {"field": "x2"}, "y2": {"field": "y2"}}}
     ]},
    {"width": 15, "height": 1, "data": {"values": [{"z": 0}]}, "mark": {"type": "point", "opacity": 0}},
    {"width": 10, "height": 225,
     "encoding": {"y": {"field": "v", "type": "quantitative", "scale": {"domain": [-0.26, 0.0133645], "nice": false, "zero": false}, "axis": {"orient": "right", "values": [-0.24,-0.2,-0.16,-0.12,-0.08,-0.04,0], "format": ".2f", "title": null, "labelFontSize": 8.5}}},
     "layer": [
      {"data": {"name": "LA"}, "mark": {"type": "rule", "strokeWidth": 1.5},
       "encoding": {"color": {"field": "v", "type": "ordinal", "scale": {"domain": [-0.26,-0.24,-0.22,-0.2,-0.18,-0.16,-0.14,-0.12,-0.1,-0.08,-0.06,-0.04,-0.02,0], "range": ["#0d0887","#37059a","#5801a4","#7702a8","#920fa3","#ab2494","#c23c81","#d4536f","#e46860","#f1824c","#fa9b3c","#feb62e","#fad824","#f0f921"]}, "legend": null}}},
      {"data": {"values": [{"v": -0.26, "v2": 0}]}, "mark": {"type": "rect", "fillOpacity": 0, "stroke": "#222", "strokeWidth": 1},
       "encoding": {"y2": {"field": "v2"}, "x": {"value": 0}, "x2": {"value": "width"}}}
     ]},
    {"width": 260, "height": 1, "data": {"values": [{"z": 0}]}, "mark": {"type": "point", "opacity": 0}},
    {"width": 233, "height": 225,
     "title": {"text": "(b) Contour plot of j₁₁ (Logit)", "orient": "bottom", "frame": "group", "anchor": "middle", "baseline": "alphabetic", "offset": 39, "dx": 10},
     "encoding": {
      "x": {"field": "x", "type": "quantitative", "scale": {"domain": [1, 10], "nice": false, "zero": false}, "axis": {"values": [2,4,6,8,10], "title": "c₁", "labelFontSize": 8.5, "titleFontSize": 12, "titleX": 123, "titleY": 21}},
      "y": {"field": "y", "type": "quantitative", "scale": {"domain": [1, 10.289], "nice": false, "zero": false}, "axis": {"values": [1,2,3,4,5,6,7,8,9,10], "title": "c₂", "labelFontSize": 8.5, "titleFontSize": 12, "titleX": -30, "titleY": 100}}
     },
     "layer": [
      {"data": {"name": "B"}, "mark": {"type": "line", "strokeWidth": 1.1, "clip": true},
       "encoding": {"detail": {"field": "k"}, "order": {"field": "o"},
        "color": {"field": "v", "type": "ordinal", "scale": {"domain": [-0.26,-0.24,-0.22,-0.2,-0.18,-0.16,-0.14,-0.12,-0.1,-0.08,-0.06,-0.04,-0.02,0], "range": ["#0d0887","#37059a","#5801a4","#7702a8","#920fa3","#ab2494","#c23c81","#d4536f","#e46860","#f1824c","#fa9b3c","#feb62e","#fad824","#f0f921"]}, "legend": null}}},
      {"data": {"values": [{"x": 1, "y": 1, "x2": 10, "y2": 10}]}, "mark": {"type": "rect", "fillOpacity": 0, "stroke": "#222", "strokeWidth": 1},
       "encoding": {"x2": {"field": "x2"}, "y2": {"field": "y2"}}}
     ]},
    {"width": 14, "height": 1, "data": {"values": [{"z": 0}]}, "mark": {"type": "point", "opacity": 0}},
    {"width": 12, "height": 225,
     "encoding": {"y": {"field": "v", "type": "quantitative", "scale": {"domain": [-0.26, 0.00834862], "nice": false, "zero": false}, "axis": {"orient": "right", "values": [-0.24,-0.2,-0.16,-0.12,-0.08,-0.04,0], "format": ".2f", "title": null, "labelFontSize": 8.5}}},
     "layer": [
      {"data": {"name": "LA"}, "mark": {"type": "rule", "strokeWidth": 1.5},
       "encoding": {"color": {"field": "v", "type": "ordinal", "scale": {"domain": [-0.26,-0.24,-0.22,-0.2,-0.18,-0.16,-0.14,-0.12,-0.1,-0.08,-0.06,-0.04,-0.02,0], "range": ["#0d0887","#37059a","#5801a4","#7702a8","#920fa3","#ab2494","#c23c81","#d4536f","#e46860","#f1824c","#fa9b3c","#feb62e","#fad824","#f0f921"]}, "legend": null}}},
      {"data": {"values": [{"v": -0.26, "v2": 0}]}, "mark": {"type": "rect", "fillOpacity": 0, "stroke": "#222", "strokeWidth": 1},
       "encoding": {"y2": {"field": "v2"}, "x": {"value": 0}, "x2": {"value": "width"}}}
     ]},
    {"width": 248, "height": 1, "data": {"values": [{"z": 0}]}, "mark": {"type": "point", "opacity": 0}},
    {"width": 244, "height": 225,
     "title": {"text": "(c) Contour plot of j₁₁ᵂᵉⁱᵇⁱᵗ− j₁₁ᴸᵒᵍⁱᵗ", "orient": "bottom", "frame": "group", "anchor": "middle", "baseline": "alphabetic", "offset": 37, "dx": 17},
     "encoding": {
      "x": {"field": "x", "type": "quantitative", "scale": {"domain": [1, 10], "nice": false, "zero": false}, "axis": {"values": [2,4,6,8,10], "title": "c₁", "labelFontSize": 10, "titleFontSize": 12, "titleX": 141, "titleY": 26}},
      "y": {"field": "y", "type": "quantitative", "scale": {"domain": [1, 10], "nice": false, "zero": false}, "axis": {"values": [1,2,3,4,5,6,7,8,9,10], "title": "c₂", "labelFontSize": 10, "titleFontSize": 12, "titleX": -26, "titleY": 90}}
     },
     "layer": [
      {"data": {"name": "C"}, "mark": {"type": "line", "clip": true, "interpolate": "catmull-rom"},
       "encoding": {"detail": {"field": "k"}, "order": {"field": "o"},
        "strokeWidth": {"condition": {"test": "datum.v === 0", "value": 2}, "value": 1.1},
        "color": {"field": "v", "type": "ordinal", "scale": {"domain": [-0.18,-0.12,-0.06,0,0.06,0.12,0.18,0.24], "range": ["#440154","#45327d","#375b8c","#ff0000","#22a186","#4cc26c","#a0d938","#fde725"]}, "legend": null}}},
      {"data": {"values": [{"x": 1, "y": 1, "x2": 10, "y2": 10}]}, "mark": {"type": "rect", "fillOpacity": 0, "stroke": "#222", "strokeWidth": 1},
       "encoding": {"x2": {"field": "x2"}, "y2": {"field": "y2"}}}
     ]},
    {"width": 14, "height": 1, "data": {"values": [{"z": 0}]}, "mark": {"type": "point", "opacity": 0}},
    {"width": 12, "height": 225,
     "encoding": {"y": {"field": "v", "type": "quantitative", "scale": {"domain": [-0.18, 0.24], "nice": false, "zero": false}, "axis": {"orient": "right", "values": [-0.18,-0.12,-0.06,0,0.06,0.12,0.18,0.24], "format": ".2f", "title": null, "labelFontSize": 10}}},
     "layer": [
      {"data": {"name": "LC"}, "mark": {"type": "rule"},
       "encoding": {"strokeWidth": {"condition": {"test": "datum.v === 0", "value": 4}, "value": 1.5},
        "color": {"field": "v", "type": "ordinal", "scale": {"domain": [-0.18,-0.12,-0.06,0,0.06,0.12,0.18,0.24], "range": ["#440154","#45327d","#375b8c","#ff0000","#22a186","#4cc26c","#a0d938","#fde725"]}, "legend": null}}},
      {"data": {"values": [{"v": -0.18, "v2": 0.24}]}, "mark": {"type": "rect", "fillOpacity": 0, "stroke": "#222", "strokeWidth": 1},
       "encoding": {"y2": {"field": "v2"}, "x": {"value": 0}, "x2": {"value": "width"}}}
     ]}
   ],
   "spacing": 0, "bounds": "flush",
   "resolve": {"scale": {"color": "independent"}}
  },
  {
   "hconcat": [
    {"width": 238, "height": 234,
     "title": {"text": "(d) Contour plot of j₁₂ (Weibit)", "orient": "bottom", "frame": "group", "anchor": "middle", "baseline": "alphabetic", "offset": 35, "dx": 6},
     "encoding": {
      "x": {"field": "x", "type": "quantitative", "scale": {"domain": [1, 10], "nice": false, "zero": false}, "axis": {"values": [2,4,6,8,10], "title": "g₁", "labelFontSize": 9.5, "titleFontSize": 13, "titleX": 119, "titleY": 24}},
      "y": {"field": "y", "type": "quantitative", "scale": {"domain": [1, 10.5294], "nice": false, "zero": false}, "axis": {"values": [1,2,3,4,5,6,7,8,9,10], "title": "g₂", "labelFontSize": 9.5, "titleFontSize": 14, "titleX": -33, "titleY": 130}}
     },
     "layer": [
      {"data": {"name": "D"}, "mark": {"type": "line", "strokeWidth": 1.1, "clip": true, "interpolate": "catmull-rom"},
       "encoding": {"detail": {"field": "k"}, "order": {"field": "o"},
        "color": {"field": "v", "type": "ordinal", "scale": {"domain": [0,0.02,0.04,0.06,0.08,0.1,0.12,0.14,0.16,0.18,0.2,0.22,0.24,0.26], "range": ["#0d0887","#37059a","#5801a4","#7702a8","#920fa3","#ab2494","#c23c81","#d4536f","#e46860","#f1824c","#fa9b3c","#feb62e","#fad824","#f0f921"]}, "legend": null}}},
      {"data": {"values": [{"x": 1, "y": 1, "x2": 10, "y2": 10}]}, "mark": {"type": "rect", "fillOpacity": 0, "stroke": "#222", "strokeWidth": 1},
       "encoding": {"x2": {"field": "x2"}, "y2": {"field": "y2"}}}
     ]},
    {"width": 15, "height": 1, "data": {"values": [{"z": 0}]}, "mark": {"type": "point", "opacity": 0}},
    {"width": 11, "height": 234,
     "encoding": {"y": {"field": "v", "type": "quantitative", "scale": {"domain": [0, 0.275294], "nice": false, "zero": false}, "axis": {"orient": "right", "values": [0,0.04,0.08,0.12,0.16,0.2,0.24], "format": ".2f", "title": null, "labelFontSize": 9.5}}},
     "layer": [
      {"data": {"name": "LD"}, "mark": {"type": "rule", "strokeWidth": 1.5},
       "encoding": {"color": {"field": "v", "type": "ordinal", "scale": {"domain": [0,0.02,0.04,0.06,0.08,0.1,0.12,0.14,0.16,0.18,0.2,0.22,0.24,0.26], "range": ["#0d0887","#37059a","#5801a4","#7702a8","#920fa3","#ab2494","#c23c81","#d4536f","#e46860","#f1824c","#fa9b3c","#feb62e","#fad824","#f0f921"]}, "legend": null}}},
      {"data": {"values": [{"v": 0, "v2": 0.26}]}, "mark": {"type": "rect", "fillOpacity": 0, "stroke": "#222", "strokeWidth": 1},
       "encoding": {"y2": {"field": "v2"}, "x": {"value": 0}, "x2": {"value": "width"}}}
     ]},
    {"width": 247, "height": 1, "data": {"values": [{"z": 0}]}, "mark": {"type": "point", "opacity": 0}},
    {"width": 249, "height": 234,
     "title": {"text": "(e) Contour plot of j₁₂ (Logit)", "orient": "bottom", "frame": "group", "anchor": "middle", "baseline": "alphabetic", "offset": 34, "dx": 14},
     "encoding": {
      "x": {"field": "x", "type": "quantitative", "scale": {"domain": [1, 10], "nice": false, "zero": false}, "axis": {"values": [2,4,6,8,10], "title": "c₁", "labelFontSize": 10, "titleFontSize": 13, "titleX": 137, "titleY": 25}},
      "y": {"field": "y", "type": "quantitative", "scale": {"domain": [1, 10], "nice": false, "zero": false}, "axis": {"values": [1,2,3,4,5,6,7,8,9,10], "title": "c₂", "labelFontSize": 10, "titleFontSize": 13, "titleX": -25, "titleY": 124}}
     },
     "layer": [
      {"data": {"name": "E"}, "mark": {"type": "line", "strokeWidth": 1.1, "clip": true},
       "encoding": {"detail": {"field": "k"}, "order": {"field": "o"},
        "color": {"field": "v", "type": "ordinal", "scale": {"domain": [0,0.02,0.04,0.06,0.08,0.1,0.12,0.14,0.16,0.18,0.2,0.22,0.24,0.26], "range": ["#0d0887","#37059a","#5801a4","#7702a8","#920fa3","#ab2494","#c23c81","#d4536f","#e46860","#f1824c","#fa9b3c","#feb62e","#fad824","#f0f921"]}, "legend": null}}},
      {"data": {"values": [{"x": 1, "y": 1, "x2": 10, "y2": 10}]}, "mark": {"type": "rect", "fillOpacity": 0, "stroke": "#222", "strokeWidth": 1},
       "encoding": {"x2": {"field": "x2"}, "y2": {"field": "y2"}}}
     ]},
    {"width": 16, "height": 1, "data": {"values": [{"z": 0}]}, "mark": {"type": "point", "opacity": 0}},
    {"width": 10, "height": 234,
     "encoding": {"y": {"field": "v", "type": "quantitative", "scale": {"domain": [-0.0011159, 0.26], "nice": false, "zero": false}, "axis": {"orient": "right", "values": [0,0.04,0.08,0.12,0.16,0.2,0.24], "format": ".2f", "title": null, "labelFontSize": 10}}},
     "layer": [
      {"data": {"name": "LD"}, "mark": {"type": "rule", "strokeWidth": 1.5},
       "encoding": {"color": {"field": "v", "type": "ordinal", "scale": {"domain": [0,0.02,0.04,0.06,0.08,0.1,0.12,0.14,0.16,0.18,0.2,0.22,0.24,0.26], "range": ["#0d0887","#37059a","#5801a4","#7702a8","#920fa3","#ab2494","#c23c81","#d4536f","#e46860","#f1824c","#fa9b3c","#feb62e","#fad824","#f0f921"]}, "legend": null}}},
      {"data": {"values": [{"v": 0, "v2": 0.26}]}, "mark": {"type": "rect", "fillOpacity": 0, "stroke": "#222", "strokeWidth": 1},
       "encoding": {"y2": {"field": "v2"}, "x": {"value": 0}, "x2": {"value": "width"}}}
     ]},
    {"width": 256, "height": 1, "data": {"values": [{"z": 0}]}, "mark": {"type": "point", "opacity": 0}},
    {"width": 235, "height": 234,
     "title": {"text": "(f) Contour plot of j₁₂ᵂᵉⁱᵇⁱᵗ− j₁₂ᴸᵒᵍⁱᵗ", "orient": "bottom", "frame": "group", "anchor": "middle", "baseline": "alphabetic", "offset": 34, "dx": 10},
     "encoding": {
      "x": {"field": "x", "type": "quantitative", "scale": {"domain": [1, 10], "nice": false, "zero": false}, "axis": {"values": [2,4,6,8,10], "title": "c₁", "labelFontSize": 10, "titleFontSize": 13, "titleX": 129, "titleY": 27}},
      "y": {"field": "y", "type": "quantitative", "scale": {"domain": [1, 10.6606], "nice": false, "zero": false}, "axis": {"values": [1,2,3,4,5,6,7,8,9,10], "title": "c₂", "labelFontSize": 10, "titleFontSize": 13, "titleX": -31, "titleY": 109}}
     },
     "layer": [
      {"data": {"name": "F"}, "mark": {"type": "line", "clip": true, "interpolate": "catmull-rom"},
       "encoding": {"detail": {"field": "k"}, "order": {"field": "o"},
        "strokeWidth": {"condition": {"test": "datum.v === 0", "value": 2}, "value": 1.1},
        "color": {"field": "v", "type": "ordinal", "scale": {"domain": [-0.24,-0.2,-0.16,-0.12,-0.08,-0.04,0,0.04,0.08,0.12,0.16], "range": ["#440154","#482475","#414487","#355f8d","#2a788e","#21918c","#ff0000","#44bf70","#7ad151","#bddf26","#fde725"]}, "legend": null}}},
      {"data": {"values": [{"x": 1, "y": 1, "x2": 10, "y2": 10}]}, "mark": {"type": "rect", "fillOpacity": 0, "stroke": "#222", "strokeWidth": 1},
       "encoding": {"x2": {"field": "x2"}, "y2": {"field": "y2"}}}
     ]},
    {"width": 15, "height": 1, "data": {"values": [{"z": 0}]}, "mark": {"type": "point", "opacity": 0}},
    {"width": 9, "height": 234,
     "encoding": {"y": {"field": "v", "type": "quantitative", "scale": {"domain": [-0.24, 0.189358], "nice": false, "zero": false}, "axis": {"orient": "right", "values": [-0.24,-0.16,-0.08,0,0.08,0.16], "format": ".2f", "title": null, "labelFontSize": 10}}},
     "layer": [
      {"data": {"name": "LF"}, "mark": {"type": "rule"},
       "encoding": {"strokeWidth": {"condition": {"test": "datum.v === 0", "value": 4}, "value": 1.5},
        "color": {"field": "v", "type": "ordinal", "scale": {"domain": [-0.24,-0.2,-0.16,-0.12,-0.08,-0.04,0,0.04,0.08,0.12,0.16], "range": ["#440154","#482475","#414487","#355f8d","#2a788e","#21918c","#ff0000","#44bf70","#7ad151","#bddf26","#fde725"]}, "legend": null}}},
      {"data": {"values": [{"v": -0.24, "v2": 0.16}]}, "mark": {"type": "rect", "fillOpacity": 0, "stroke": "#222", "strokeWidth": 1},
       "encoding": {"y2": {"field": "v2"}, "x": {"value": 0}, "x2": {"value": "width"}}}
     ]}
   ],
   "spacing": 0, "bounds": "flush",
   "resolve": {"scale": {"color": "independent"}}
  }
 ],
 "spacing": 48,
 "resolve": {"scale": {"color": "independent"}}
}
